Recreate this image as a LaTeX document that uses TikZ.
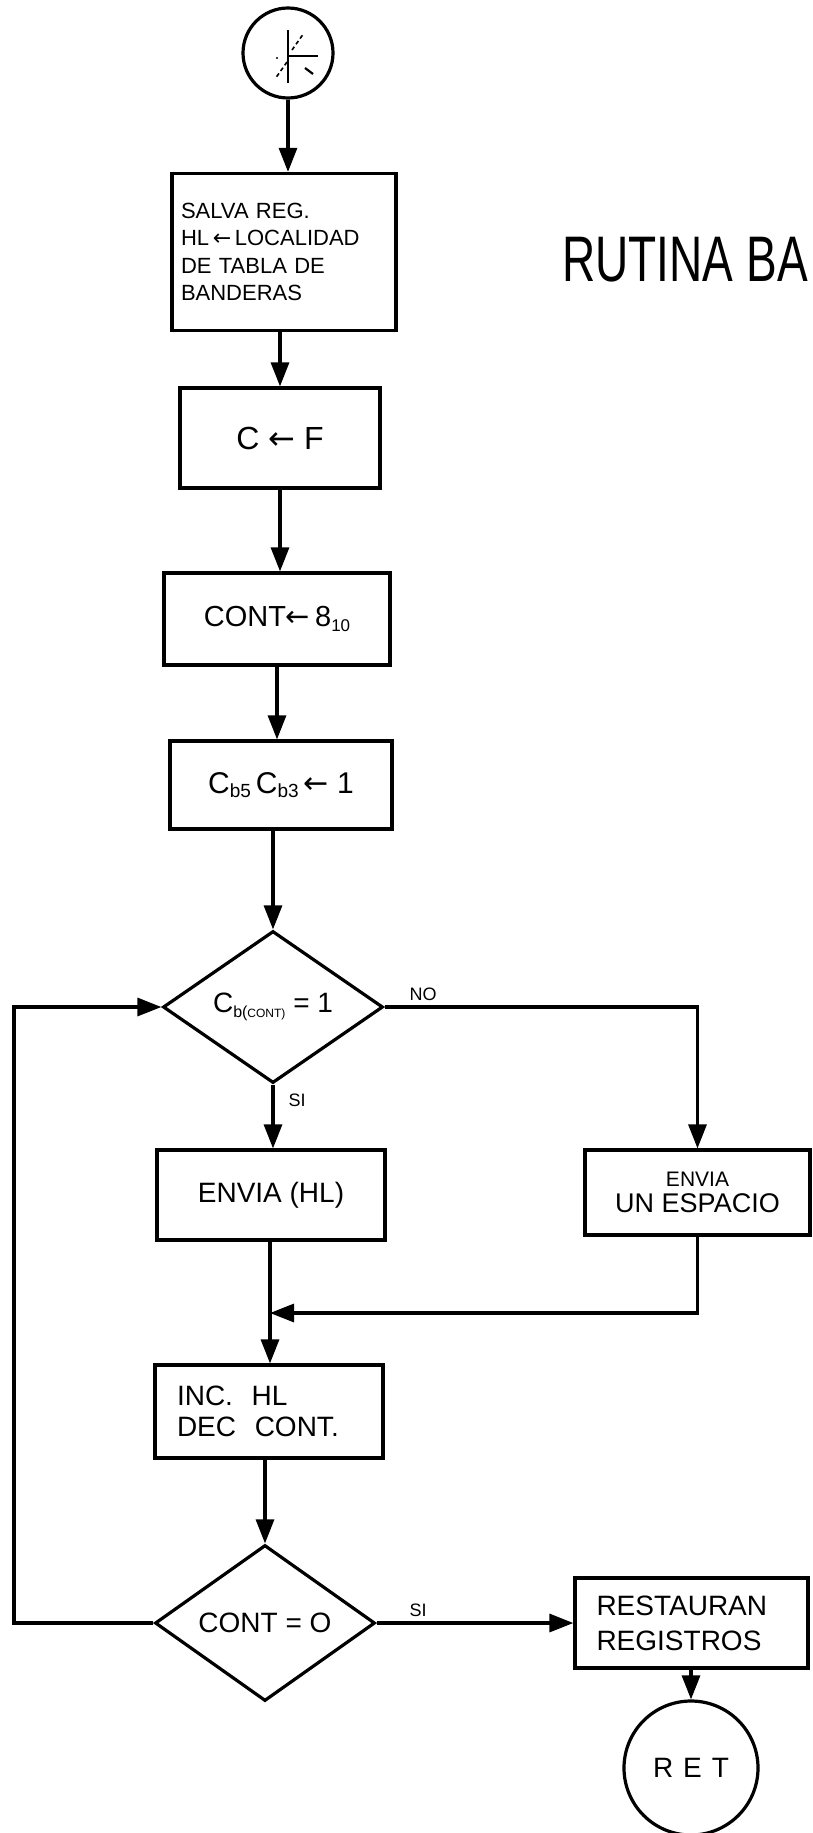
\documentclass[tikz,border=0pt]{standalone}
\usepackage{fontspec}
\setmainfont{Liberation Sans}
\newfontfamily\arrowfont{DejaVu Sans}
\usetikzlibrary{shapes.geometric,arrows.meta,calc}
\newcommand\subx[2][17]{\raisebox{-0.3ex}{\fontsize{#1}{#1}\selectfont #2}}
\newcommand\larr{{\arrowfont ←}}
\begin{document}
\begin{tikzpicture}[x=1pt,y=-1pt,
  every node/.style={font=\fontsize{28}{31}\selectfont},
  box/.style={draw, line width=3.2pt, rectangle, inner sep=0pt},
  dec/.style={draw, line width=3.2pt, diamond, aspect=1.45, inner sep=0pt, minimum width=220pt, minimum height=152pt},
  term/.style={draw, line width=3.2pt, circle, inner sep=0pt},
  flow/.style={line width=3.2pt, -{Triangle[length=24pt,width=18pt]}},
  plain/.style={line width=3.2pt},
  lbl/.style={font=\fontsize{18}{18}\selectfont, inner sep=0pt}
]
\useasboundingbox (0,0) rectangle (812,1833);
\clip (0,0) rectangle (812,1833);

% title
\node[anchor=base west, inner sep=0pt] (title) at (562,281)
  {\scalebox{1}[1.4]{\fontsize{46}{46}\selectfont RUTINA\hspace{13pt}BA}};

% start
\node[term, minimum size=90pt] (start) at (288,53) {};
\draw[line width=2.4pt] (288,30) -- (288,83);
\draw[line width=2.4pt] (288,56) -- (318,56);
\draw[line width=1.6pt, dash pattern=on 4pt off 3pt] (292,50) -- (304,33);
\draw[line width=1.6pt, dash pattern=on 4pt off 3pt] (287,62) -- (275,79);
\draw[line width=2.2pt] (305,68) -- (313,74);
\fill (277,58) circle (1.2pt);

% boxes
\node[box, minimum width=224pt, minimum height=157pt, text width=206pt, align=left,
      font=\fontsize{22}{27.5}\selectfont] (b1) at (284,252)
  {SALVA REG.\\HL\,\larr\,LOCALIDAD\\DE TABLA DE\\BANDERAS};
\node[box, minimum width=200pt, minimum height=100pt, font=\fontsize{32}{32}\selectfont] (b2) at (280,438)
  {C \larr\ F};
\node[box, minimum width=226pt, minimum height=92pt, font=\fontsize{29}{29}\selectfont] (b3) at (277,619)
  {CONT\larr\,8\subx{10}};
\node[box, minimum width=222pt, minimum height=88pt, font=\fontsize{30}{30}\selectfont] (b4) at (281,785)
  {C\subx[19]{b5}\,C\subx[19]{b3}\,\larr\ 1};
\node[dec] (d1) at (273,1007)
  {C\subx[16]{b(\fontsize{12}{12}\selectfont CONT)} = 1};
\node[box, minimum width=228pt, minimum height=90pt] (b5) at (271,1195)
  {ENVIA (HL)};
\node[box, minimum width=225pt, minimum height=85pt, align=center, font=\fontsize{27}{26}\selectfont] (b6) at (697.5,1192.5)
  {{\fontsize{21}{21}\selectfont ENVIA}\\UN ESPACIO};
\node[box, minimum width=228pt, minimum height=93pt, text width=184pt, align=left] (b7) at (269,1411.5)
  {INC. \ HL\\DEC \ CONT.};
\node[dec, minimum height=156pt] (d2) at (265,1623)
  {CONT = O};
\node[box, minimum width=233pt, minimum height=90pt, text width=190pt, align=left, font=\fontsize{28}{35}\selectfont] (b8) at (691.5,1623)
  {RESTAURAN\\REGISTROS};
\node[term, minimum size=134pt, font=\fontsize{28}{28}\selectfont] (ret) at (691,1768)
  {R\hspace{10pt}E\hspace{10pt}T\hspace{20pt}};

% connectors
\coordinate (loopx) at (14,0);
\coordinate (merge) at (270,1313);
\draw[flow] (start.south) -- (start.south |- b1.north);
\draw[flow] (b1.south -| b2.north) -- (b2.north);
\draw[flow] (b2.south) -- (b2.south |- b3.north);
\draw[flow] (b3.south) -- (b3.south |- b4.north);
\draw[flow] (b4.south -| d1.north) -- (d1.north);
\draw[flow] (d1.south) -- (d1.south |- b5.north);
\draw[flow] (d1.east) -| (b6.north);
\draw[plain] (b5.south -| merge) -- (merge);
\draw[flow] (merge) -- (merge |- b7.north);
\draw[flow] (b6.south) |- (merge);
\draw[flow] (b7.south -| d2.north) -- (d2.north);
\draw[flow] (d2.west) -- (d2.west -| loopx) -- (loopx |- d1.west) -- (d1.west);
\draw[flow] (d2.east) -- (b8.west);
\draw[flow] (b8.south -| ret.north) -- (ret.north);

% labels
\node[lbl] (lno) at (423,994) {NO};
\node[lbl] (lsi1) at (297,1100) {SI};
\node[lbl] (lsi2) at (418,1610) {SI};
\end{tikzpicture}
\end{document}
